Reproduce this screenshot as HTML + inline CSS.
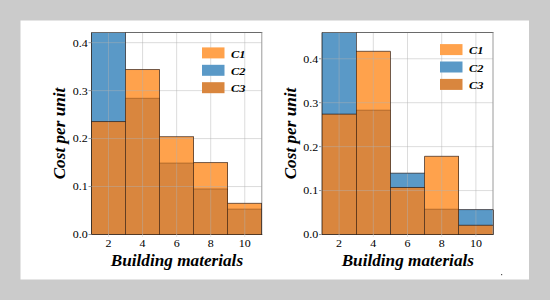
<!DOCTYPE html>
<html><head><meta charset="utf-8"><style>
html,body{margin:0;padding:0;width:550px;height:300px;overflow:hidden;background:#cbcbcb;}
svg{position:absolute;left:0;top:0;}
.tk{font-family:"Liberation Serif",serif;font-size:12px;font-weight:normal;fill:#000;}
.lg{font-family:"Liberation Serif",serif;font-size:11px;font-style:italic;font-weight:bold;fill:#000;}
.al{font-family:"Liberation Serif",serif;font-size:17.2px;font-style:italic;font-weight:bold;fill:#000;}
</style></head><body>
<svg width="550" height="300" viewBox="0 0 550 300">
<rect x="20.5" y="20.5" width="508.5" height="259" fill="#fff"/>
<rect x="501" y="274" width="1.2" height="1.2" fill="#555"/>
<rect x="91.50" y="32.50" width="34.06" height="202.00" fill="#5a99c7"/>
<rect x="91.50" y="121.56" width="34.06" height="112.94" fill="#d9863e"/>
<rect x="125.56" y="69.52" width="34.06" height="164.98" fill="#ffa24c"/>
<rect x="125.56" y="98.30" width="34.06" height="136.20" fill="#d9863e"/>
<rect x="159.62" y="136.67" width="34.06" height="97.83" fill="#ffa24c"/>
<rect x="159.62" y="163.04" width="34.06" height="71.46" fill="#d9863e"/>
<rect x="193.68" y="162.56" width="34.06" height="71.94" fill="#ffa24c"/>
<rect x="193.68" y="188.94" width="34.06" height="45.56" fill="#d9863e"/>
<rect x="227.74" y="203.33" width="34.06" height="31.17" fill="#ffa24c"/>
<rect x="227.74" y="209.08" width="34.06" height="25.42" fill="#d9863e"/>
<line x1="91.5" x2="261.8" y1="186.54" y2="186.54" stroke="rgba(178,178,178,0.45)" stroke-width="1"/>
<line x1="91.5" x2="261.8" y1="138.58" y2="138.58" stroke="rgba(178,178,178,0.45)" stroke-width="1"/>
<line x1="91.5" x2="261.8" y1="90.63" y2="90.63" stroke="rgba(178,178,178,0.45)" stroke-width="1"/>
<line x1="91.5" x2="261.8" y1="42.67" y2="42.67" stroke="rgba(178,178,178,0.45)" stroke-width="1"/>
<line x1="108.53" x2="108.53" y1="32.5" y2="234.5" stroke="rgba(178,178,178,0.45)" stroke-width="1"/>
<line x1="142.59" x2="142.59" y1="32.5" y2="234.5" stroke="rgba(178,178,178,0.45)" stroke-width="1"/>
<line x1="176.65" x2="176.65" y1="32.5" y2="234.5" stroke="rgba(178,178,178,0.45)" stroke-width="1"/>
<line x1="210.71" x2="210.71" y1="32.5" y2="234.5" stroke="rgba(178,178,178,0.45)" stroke-width="1"/>
<line x1="244.77" x2="244.77" y1="32.5" y2="234.5" stroke="rgba(178,178,178,0.45)" stroke-width="1"/>
<line x1="91.5" x2="262.3" y1="32.5" y2="32.5" stroke="#6a6a6a" stroke-width="1"/>
<line x1="261.8" x2="261.8" y1="32.5" y2="234.5" stroke="#9a9a9a" stroke-width="1"/>
<line x1="91.50" x2="125.56" y1="121.56" y2="121.56" stroke="rgba(20,5,0,0.6)" stroke-width="1"/>
<line x1="125.56" x2="159.62" y1="69.52" y2="69.52" stroke="rgba(20,5,0,0.6)" stroke-width="1"/>
<line x1="125.56" x2="159.62" y1="98.30" y2="98.30" stroke="rgba(90,40,0,0.35)" stroke-width="1"/>
<line x1="159.62" x2="193.68" y1="136.67" y2="136.67" stroke="rgba(20,5,0,0.6)" stroke-width="1"/>
<line x1="159.62" x2="193.68" y1="163.04" y2="163.04" stroke="rgba(90,40,0,0.35)" stroke-width="1"/>
<line x1="193.68" x2="227.74" y1="162.56" y2="162.56" stroke="rgba(20,5,0,0.6)" stroke-width="1"/>
<line x1="193.68" x2="227.74" y1="188.94" y2="188.94" stroke="rgba(90,40,0,0.35)" stroke-width="1"/>
<line x1="227.74" x2="261.80" y1="203.33" y2="203.33" stroke="rgba(20,5,0,0.6)" stroke-width="1"/>
<line x1="227.74" x2="261.80" y1="209.08" y2="209.08" stroke="rgba(90,40,0,0.35)" stroke-width="1"/>
<line x1="125.50" x2="125.50" y1="32.50" y2="234.5" stroke="rgba(20,5,0,0.6)" stroke-width="1"/>
<line x1="159.50" x2="159.50" y1="69.52" y2="234.5" stroke="rgba(20,5,0,0.6)" stroke-width="1"/>
<line x1="193.50" x2="193.50" y1="136.67" y2="234.5" stroke="rgba(20,5,0,0.6)" stroke-width="1"/>
<line x1="227.50" x2="227.50" y1="162.56" y2="234.5" stroke="rgba(20,5,0,0.6)" stroke-width="1"/>
<line x1="261.50" x2="261.50" y1="203.33" y2="234.5" stroke="rgba(20,5,0,0.6)" stroke-width="1"/>
<line x1="91.5" x2="91.5" y1="32.5" y2="234.5" stroke="rgba(15,5,0,0.72)" stroke-width="1"/>
<line x1="91.0" x2="262.3" y1="234.5" y2="234.5" stroke="rgba(15,5,0,0.68)" stroke-width="1"/>
<line x1="88.5" x2="91.5" y1="234.50" y2="234.50" stroke="#999" stroke-width="1"/>
<text transform="translate(87.80 238.40) scale(1 0.92)" text-anchor="end" class="tk">0.0</text>
<line x1="88.5" x2="91.5" y1="186.54" y2="186.54" stroke="#999" stroke-width="1"/>
<text transform="translate(87.80 190.44) scale(1 0.92)" text-anchor="end" class="tk">0.1</text>
<line x1="88.5" x2="91.5" y1="138.58" y2="138.58" stroke="#999" stroke-width="1"/>
<text transform="translate(87.80 142.48) scale(1 0.92)" text-anchor="end" class="tk">0.2</text>
<line x1="88.5" x2="91.5" y1="90.63" y2="90.63" stroke="#999" stroke-width="1"/>
<text transform="translate(87.80 94.53) scale(1 0.92)" text-anchor="end" class="tk">0.3</text>
<line x1="88.5" x2="91.5" y1="42.67" y2="42.67" stroke="#999" stroke-width="1"/>
<text transform="translate(87.80 46.57) scale(1 0.92)" text-anchor="end" class="tk">0.4</text>
<line x1="108.53" x2="108.53" y1="234.5" y2="237.0" stroke="#e8e8e8" stroke-width="1"/>
<text transform="translate(108.53 247.10) scale(1 0.9)" text-anchor="middle" class="tk">2</text>
<line x1="142.59" x2="142.59" y1="234.5" y2="237.0" stroke="#e8e8e8" stroke-width="1"/>
<text transform="translate(142.59 247.10) scale(1 0.9)" text-anchor="middle" class="tk">4</text>
<line x1="176.65" x2="176.65" y1="234.5" y2="237.0" stroke="#e8e8e8" stroke-width="1"/>
<text transform="translate(176.65 247.10) scale(1 0.9)" text-anchor="middle" class="tk">6</text>
<line x1="210.71" x2="210.71" y1="234.5" y2="237.0" stroke="#e8e8e8" stroke-width="1"/>
<text transform="translate(210.71 247.10) scale(1 0.9)" text-anchor="middle" class="tk">8</text>
<line x1="244.77" x2="244.77" y1="234.5" y2="237.0" stroke="#e8e8e8" stroke-width="1"/>
<text transform="translate(244.77 247.10) scale(1 0.9)" text-anchor="middle" class="tk">10</text>
<rect x="202" y="47.40" width="22.5" height="11" fill="#ffa24c"/>
<text transform="translate(231 57.60) scale(1.13 1)" class="lg">C1</text>
<rect x="202" y="64.80" width="22.5" height="11" fill="#5a99c7"/>
<text transform="translate(231 75.00) scale(1.13 1)" class="lg">C2</text>
<rect x="202" y="82.20" width="22.5" height="11" fill="#d9863e"/>
<text transform="translate(231 92.40) scale(1.13 1)" class="lg">C3</text>
<text x="176.95" y="266.2" text-anchor="middle" class="al">Building materials</text>
<text transform="translate(64.5 133.50) rotate(-90)" x="0" y="0" text-anchor="middle" class="al">Cost per unit</text>
<rect x="322.00" y="32.50" width="34.20" height="202.00" fill="#5a99c7"/>
<rect x="322.00" y="114.13" width="34.20" height="120.37" fill="#d9863e"/>
<rect x="356.20" y="51.30" width="34.20" height="183.20" fill="#ffa24c"/>
<rect x="356.20" y="110.17" width="34.20" height="124.33" fill="#d9863e"/>
<rect x="390.40" y="173.17" width="34.20" height="61.33" fill="#5a99c7"/>
<rect x="390.40" y="187.49" width="34.20" height="47.01" fill="#d9863e"/>
<rect x="424.60" y="156.30" width="34.20" height="78.20" fill="#ffa24c"/>
<rect x="424.60" y="209.20" width="34.20" height="25.30" fill="#d9863e"/>
<rect x="458.80" y="209.59" width="34.20" height="24.91" fill="#5a99c7"/>
<rect x="458.80" y="225.27" width="34.20" height="9.23" fill="#d9863e"/>
<line x1="322.0" x2="493.0" y1="190.57" y2="190.57" stroke="rgba(178,178,178,0.45)" stroke-width="1"/>
<line x1="322.0" x2="493.0" y1="146.64" y2="146.64" stroke="rgba(178,178,178,0.45)" stroke-width="1"/>
<line x1="322.0" x2="493.0" y1="102.70" y2="102.70" stroke="rgba(178,178,178,0.45)" stroke-width="1"/>
<line x1="322.0" x2="493.0" y1="58.77" y2="58.77" stroke="rgba(178,178,178,0.45)" stroke-width="1"/>
<line x1="339.10" x2="339.10" y1="32.5" y2="234.5" stroke="rgba(178,178,178,0.45)" stroke-width="1"/>
<line x1="373.30" x2="373.30" y1="32.5" y2="234.5" stroke="rgba(178,178,178,0.45)" stroke-width="1"/>
<line x1="407.50" x2="407.50" y1="32.5" y2="234.5" stroke="rgba(178,178,178,0.45)" stroke-width="1"/>
<line x1="441.70" x2="441.70" y1="32.5" y2="234.5" stroke="rgba(178,178,178,0.45)" stroke-width="1"/>
<line x1="475.90" x2="475.90" y1="32.5" y2="234.5" stroke="rgba(178,178,178,0.45)" stroke-width="1"/>
<line x1="322.0" x2="493.5" y1="32.5" y2="32.5" stroke="#6a6a6a" stroke-width="1"/>
<line x1="493.0" x2="493.0" y1="32.5" y2="234.5" stroke="#9a9a9a" stroke-width="1"/>
<line x1="322.00" x2="356.20" y1="114.13" y2="114.13" stroke="rgba(20,5,0,0.6)" stroke-width="1"/>
<line x1="356.20" x2="390.40" y1="51.30" y2="51.30" stroke="rgba(20,5,0,0.6)" stroke-width="1"/>
<line x1="356.20" x2="390.40" y1="110.17" y2="110.17" stroke="rgba(90,40,0,0.35)" stroke-width="1"/>
<line x1="390.40" x2="424.60" y1="173.17" y2="173.17" stroke="rgba(20,5,0,0.6)" stroke-width="1"/>
<line x1="390.40" x2="424.60" y1="187.49" y2="187.49" stroke="rgba(20,5,0,0.6)" stroke-width="1"/>
<line x1="424.60" x2="458.80" y1="156.30" y2="156.30" stroke="rgba(20,5,0,0.6)" stroke-width="1"/>
<line x1="424.60" x2="458.80" y1="209.20" y2="209.20" stroke="rgba(90,40,0,0.35)" stroke-width="1"/>
<line x1="458.80" x2="493.00" y1="209.59" y2="209.59" stroke="rgba(20,5,0,0.6)" stroke-width="1"/>
<line x1="458.80" x2="493.00" y1="225.27" y2="225.27" stroke="rgba(20,5,0,0.6)" stroke-width="1"/>
<line x1="356.50" x2="356.50" y1="32.50" y2="234.5" stroke="rgba(20,5,0,0.6)" stroke-width="1"/>
<line x1="390.50" x2="390.50" y1="51.30" y2="234.5" stroke="rgba(20,5,0,0.6)" stroke-width="1"/>
<line x1="424.50" x2="424.50" y1="156.30" y2="234.5" stroke="rgba(20,5,0,0.6)" stroke-width="1"/>
<line x1="458.50" x2="458.50" y1="156.30" y2="234.5" stroke="rgba(20,5,0,0.6)" stroke-width="1"/>
<line x1="493.50" x2="493.50" y1="209.59" y2="234.5" stroke="rgba(20,5,0,0.6)" stroke-width="1"/>
<line x1="322.0" x2="322.0" y1="32.5" y2="234.5" stroke="rgba(15,5,0,0.72)" stroke-width="1"/>
<line x1="321.5" x2="493.5" y1="234.5" y2="234.5" stroke="rgba(15,5,0,0.68)" stroke-width="1"/>
<line x1="319.0" x2="322.0" y1="234.50" y2="234.50" stroke="#999" stroke-width="1"/>
<text transform="translate(318.30 238.40) scale(1 0.92)" text-anchor="end" class="tk">0.0</text>
<line x1="319.0" x2="322.0" y1="190.57" y2="190.57" stroke="#999" stroke-width="1"/>
<text transform="translate(318.30 194.47) scale(1 0.92)" text-anchor="end" class="tk">0.1</text>
<line x1="319.0" x2="322.0" y1="146.64" y2="146.64" stroke="#999" stroke-width="1"/>
<text transform="translate(318.30 150.54) scale(1 0.92)" text-anchor="end" class="tk">0.2</text>
<line x1="319.0" x2="322.0" y1="102.70" y2="102.70" stroke="#999" stroke-width="1"/>
<text transform="translate(318.30 106.60) scale(1 0.92)" text-anchor="end" class="tk">0.3</text>
<line x1="319.0" x2="322.0" y1="58.77" y2="58.77" stroke="#999" stroke-width="1"/>
<text transform="translate(318.30 62.67) scale(1 0.92)" text-anchor="end" class="tk">0.4</text>
<line x1="339.10" x2="339.10" y1="234.5" y2="237.0" stroke="#e8e8e8" stroke-width="1"/>
<text transform="translate(339.10 247.10) scale(1 0.9)" text-anchor="middle" class="tk">2</text>
<line x1="373.30" x2="373.30" y1="234.5" y2="237.0" stroke="#e8e8e8" stroke-width="1"/>
<text transform="translate(373.30 247.10) scale(1 0.9)" text-anchor="middle" class="tk">4</text>
<line x1="407.50" x2="407.50" y1="234.5" y2="237.0" stroke="#e8e8e8" stroke-width="1"/>
<text transform="translate(407.50 247.10) scale(1 0.9)" text-anchor="middle" class="tk">6</text>
<line x1="441.70" x2="441.70" y1="234.5" y2="237.0" stroke="#e8e8e8" stroke-width="1"/>
<text transform="translate(441.70 247.10) scale(1 0.9)" text-anchor="middle" class="tk">8</text>
<line x1="475.90" x2="475.90" y1="234.5" y2="237.0" stroke="#e8e8e8" stroke-width="1"/>
<text transform="translate(475.90 247.10) scale(1 0.9)" text-anchor="middle" class="tk">10</text>
<rect x="440" y="44.10" width="22.5" height="11" fill="#ffa24c"/>
<text transform="translate(469 54.30) scale(1.13 1)" class="lg">C1</text>
<rect x="440" y="61.50" width="22.5" height="11" fill="#5a99c7"/>
<text transform="translate(469 71.70) scale(1.13 1)" class="lg">C2</text>
<rect x="440" y="78.90" width="22.5" height="11" fill="#d9863e"/>
<text transform="translate(469 89.10) scale(1.13 1)" class="lg">C3</text>
<text x="407.80" y="266.2" text-anchor="middle" class="al">Building materials</text>
<text transform="translate(295.5 133.50) rotate(-90)" x="0" y="0" text-anchor="middle" class="al">Cost per unit</text>
</svg>
</body></html>
